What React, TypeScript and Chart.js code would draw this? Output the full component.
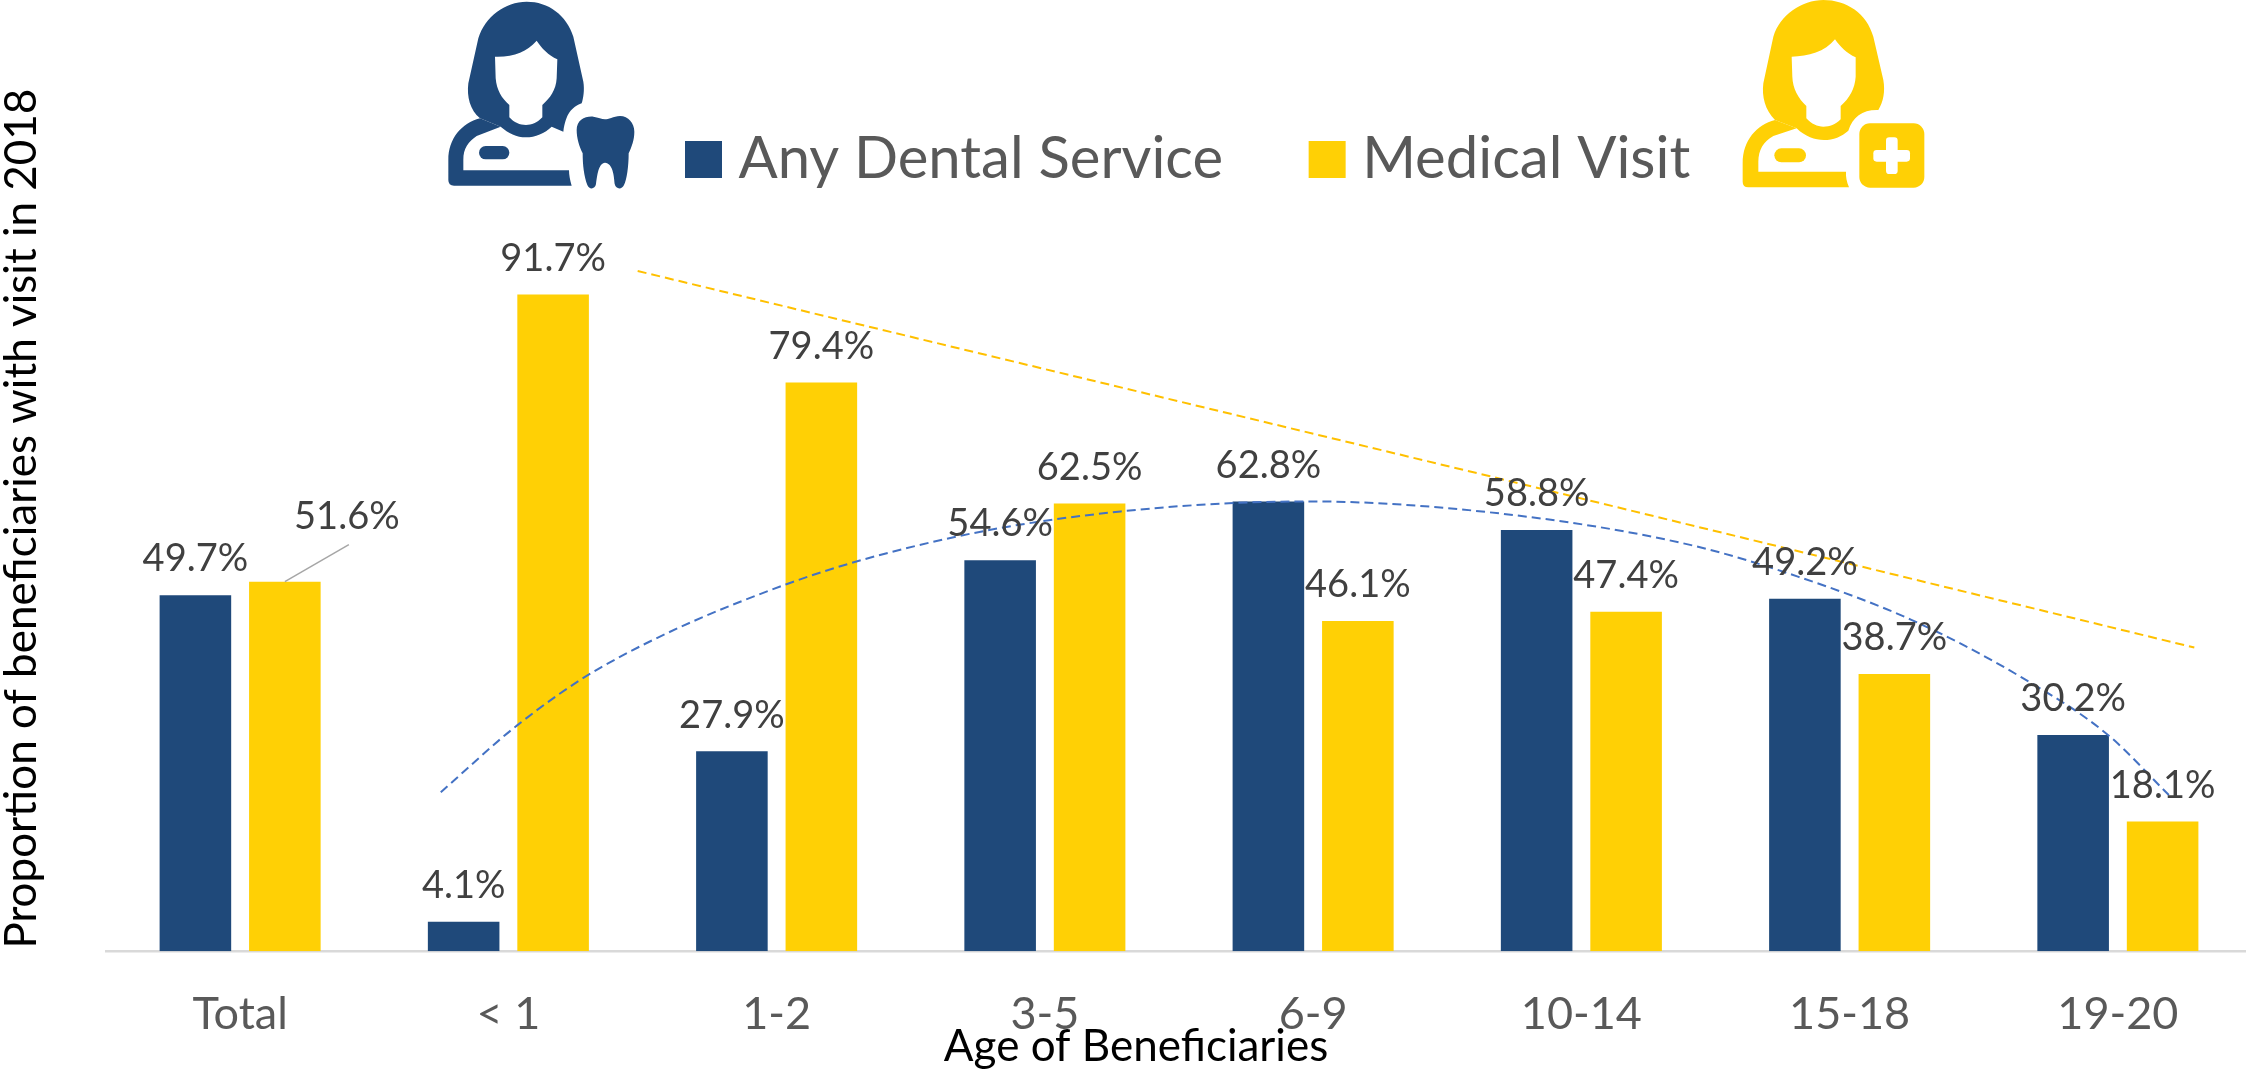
import React, { useEffect, useRef } from "react";
import { Chart, registerables } from "chart.js";

Chart.register(...registerables);

const categories = ["Total", "< 1", "1-2", "3-5", "6-9", "10-14", "15-18", "19-20"];
const dentalValues = [49.7, 4.1, 27.9, 54.6, 62.8, 58.8, 49.2, 30.2];
const medicalValues = [51.6, 91.7, 79.4, 62.5, 46.1, 47.4, 38.7, 18.1];
const dentalTrendAge = [0.748, 1.035, 1.344, 2.034, 2.66, 3.283, 3.98, 4.7, 5.397, 5.807, 6.228, 6.638, 6.963, 7.19];
const dentalTrendValue = [22.2, 31.6, 39.6, 51.2, 57.8, 61.4, 62.8, 61.1, 56.8, 52.3, 46.3, 38.3, 30.2, 21.8];
const medicalTrendAge = [1.482, 4.66, 7.285];
const medicalTrendValue = [94.97, 66.3, 42.4];

const BLUE = "#1F497A";
const YELLOW = "#FFD005";
const FONT = "Lato, Carlito, sans-serif";

const layoutTweaks = {
  id: "layoutTweaks",
  afterLayout(chart: any) {
    const lg = chart.legend;
    lg.left = 599.5;
    lg.right = chart.width;
    lg.top = 32.5;
    lg.bottom = 240;
    const t = chart.titleBlock;
    t.left += 10;
    t.right += 10;
    t.top += 4.5;
    t.bottom += 4.5;
    chart.scales.x.bottom = chart.height;
  },
};

const valueLabels = {
  id: "valueLabels",
  afterDatasetsDraw(chart: any) {
    const { ctx } = chart;
    ctx.save();
    ctx.font = `38px ${FONT}`;
    ctx.fillStyle = "#404040";
    ctx.textAlign = "center";
    ctx.textBaseline = "middle";
    [0, 1].forEach((di) => {
      chart.getDatasetMeta(di).data.forEach((el: any, i: number) => {
        const v = chart.data.datasets[di].data[i].y;
        const lifted = di === 1 && i === 0;
        if (lifted) {
          ctx.save();
          ctx.strokeStyle = "#A6A6A6";
          ctx.lineWidth = 1.5;
          ctx.beginPath();
          ctx.moveTo(el.x, el.y);
          ctx.lineTo(el.x + 64, el.y - 37);
          ctx.stroke();
          ctx.restore();
        }
        ctx.fillText(`${v.toFixed(1)}%`, el.x + (lifted ? 62 : 0), el.y - (lifted ? 65 : 36));
      });
    });
    ctx.restore();
  },
};

function DentalIcon() {
  return (
    <svg viewBox="0 0 720 600" style={{ position: "absolute", left: 430, top: 0, width: 240, height: 200 }}>
      <path fill={BLUE} d="M150,355 C120,330 110,290 115,250 L145,115 C165,50 225,5 290,5 C355,5 410,45 430,110 L460,245 C464,270 460,295 455,310 C425,322 408,340 400,395 L365,380 C345,400 315,412 288,412 C260,412 235,400 212,380 Z" />
      <path fill={BLUE} d="M150,355 C95,370 55,415 55,480 L55,540 Q55,557 72,557 L425,557 C420,540 417,525 417,511 L100,511 L100,480 C100,445 115,425 140,408 L212,380 Z" />
      <path fill="#fff" d="M195,170 C250,172 290,155 320,122 C335,145 355,165 382,178 L380,235 C378,270 360,295 337,315 L337,352 C320,370 305,375 288,375 C270,375 252,368 238,352 L238,315 C215,295 200,270 197,235 Z" />
      <rect fill={BLUE} x="147" y="438" width="91" height="40" rx="20" />
      <path fill={BLUE} d="M440,390 C440,360 465,348 490,350 C505,352 515,358 525,358 C535,358 550,350 570,348 C595,348 613,370 613,395 C613,420 605,440 596,460 C596,500 590,540 582,555 C575,570 558,568 554,552 C552,525 548,490 525,488 C505,490 502,525 498,552 C495,568 478,570 472,555 C462,530 458,495 458,460 C448,440 440,415 440,390 Z" />
    </svg>
  );
}

function MedicalIcon() {
  return (
    <svg viewBox="0 0 720 600" style={{ position: "absolute", left: 1730, top: 0, width: 240, height: 200 }}>
      <path fill={YELLOW} d="M135,360 C105,330 95,290 100,250 L130,110 C150,45 215,0 280,0 C350,0 410,40 430,110 L460,240 C466,275 460,305 445,330 C400,328 368,350 355,392 C335,410 310,420 282,420 C255,420 225,410 200,385 Z" />
      <path fill={YELLOW} d="M135,360 C80,375 38,420 38,490 L38,545 Q38,562 55,562 L357,562 C350,545 347,530 348,515 L85,515 L85,485 C85,450 100,425 130,408 L200,385 Z" />
      <path fill="#fff" d="M185,170 C235,170 285,155 315,118 C330,140 350,160 377,172 L377,230 C375,265 358,295 332,318 L332,358 C315,375 300,380 280,380 C262,380 245,372 229,355 L229,318 C205,295 188,265 187,230 Z" />
      <rect fill={YELLOW} x="133" y="445" width="95" height="42" rx="21" />
      <rect fill={YELLOW} x="388" y="370" width="195" height="193" rx="32" />
      <rect fill="#fff" x="468" y="412" width="35" height="110" rx="10" />
      <rect fill="#fff" x="430" y="450" width="110" height="35" rx="10" />
    </svg>
  );
}

export default function App() {
  const ref = useRef<HTMLCanvasElement>(null);
  useEffect(() => {
    document.body.style.margin = "0";
    const chart = new Chart(ref.current as HTMLCanvasElement, {
      type: "bar",
      data: {
        datasets: [
          { label: "Any Dental Service", data: dentalValues.map((y, x) => ({ x, y })), backgroundColor: BLUE, categoryPercentage: 0.667, barPercentage: 0.8, order: 2 },
          { label: "Medical Visit", data: medicalValues.map((y, x) => ({ x, y })), backgroundColor: YELLOW, categoryPercentage: 0.667, barPercentage: 0.8, order: 2 },
          {
            type: "line",
            label: "Dental trend",
            data: dentalTrendAge.map((x, i) => ({ x, y: dentalTrendValue[i] })),
            borderColor: "#4472C4",
            borderWidth: 2,
            borderDash: [9, 5],
            pointRadius: 0,
            cubicInterpolationMode: "monotone",
            order: 1,
          },
          {
            type: "line",
            label: "Medical trend",
            data: medicalTrendAge.map((x, i) => ({ x, y: medicalTrendValue[i] })),
            borderColor: "#FFC000",
            borderWidth: 2,
            borderDash: [9, 5],
            pointRadius: 0,
            order: 1,
          },
        ],
      } as any,
      options: {
        responsive: false,
        animation: false,
        layout: { padding: { top: 85, left: 0, right: 0, bottom: 0 } },
        scales: {
          x: {
            type: "linear",
            offset: false,
            min: -0.5,
            max: categories.length - 0.5,
            grid: { display: false, drawTicks: false, offset: false },
            border: { color: "#D9D9D9", width: 2.5 },
            ticks: {
              font: { family: FONT, size: 45 },
              color: "#595959",
              padding: 36,
              autoSkip: false,
              maxRotation: 0,
              callback: (v: number) => categories[v],
            },
            afterBuildTicks(s: any) { s.ticks = categories.map((_, value) => ({ value })); },
            afterFit(s: any) { s.height = 65; },
          },
          y: {
            min: 0,
            max: 120.8,
            grid: { display: false },
            border: { display: false },
            ticks: { display: false },
            title: {
              display: true,
              text: "Proportion of beneficiaries with visit in 2018",
              font: { family: FONT, size: 44, lineHeight: 1 },
              color: "#000000",
              padding: 0,
            },
            afterFit(s: any) { s.width = 106; },
          },
        } as any,
        plugins: {
          legend: {
            position: "top",
            align: "start",
            maxHeight: 1,
            labels: {
              usePointStyle: true,
              pointStyle: "rect",
              boxWidth: 12,
              boxHeight: 37,
              padding: 98,
              color: "#595959",
              font: { family: FONT, size: 58 },
              filter: (item: any) => item.datasetIndex < 2,
            },
          },
          title: {
            display: true,
            position: "bottom",
            text: "Age of Beneficiaries",
            color: "#000000",
            font: { family: FONT, size: 44, weight: "normal" },
            padding: 0,
          },
          tooltip: { enabled: false },
        },
      } as any,
      plugins: [layoutTweaks, valueLabels],
    } as any);
    return () => chart.destroy();
  }, []);
  return (
    <div style={{ position: "relative", width: 2246, height: 1069, overflow: "hidden", background: "#fff" }}>
      <canvas ref={ref} width={2252} height={1069} style={{ display: "block", width: 2252, height: 1069 }} />
      <DentalIcon />
      <MedicalIcon />
    </div>
  );
}
